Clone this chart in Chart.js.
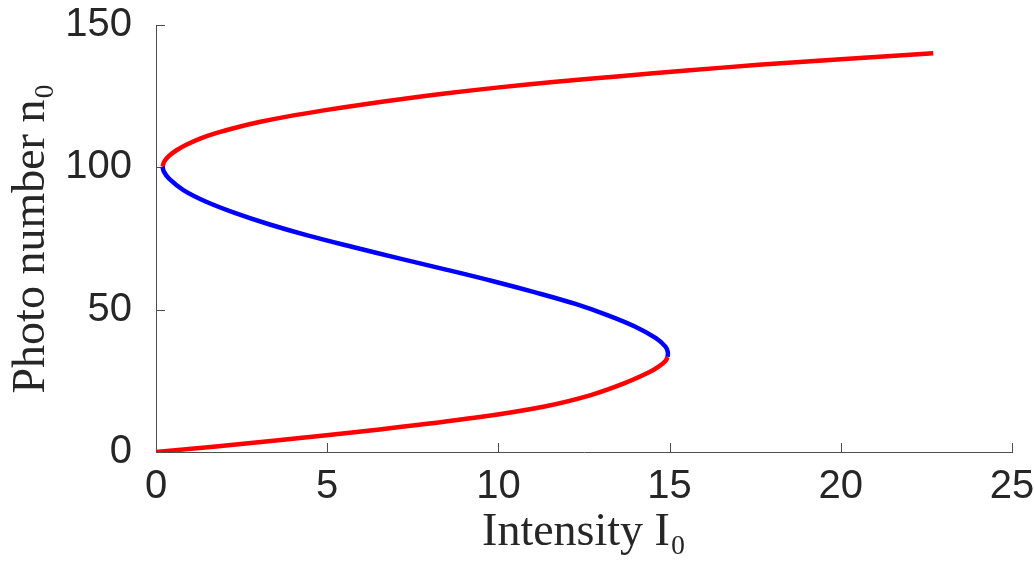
<!DOCTYPE html>
<html>
<head>
<meta charset="utf-8">
<script src="https://cdn.jsdelivr.net/npm/chart.js@4"></script>
<style>
  body { margin: 0; background: #fff; }
</style>
</head>
<body>
<canvas id="myChart" width="1034" height="561"></canvas>
<script>
// lower stable branch (red)
const lowN = [0, 4, 8, 12, 16, 20, 24, 28, 30, 32, 33.4];
const lowI = [0, 3.5, 6.6, 9.3, 11.35, 12.7, 13.65, 14.4, 14.68, 14.88, 14.94];
// middle unstable branch (blue)
const midN = [33.4, 35, 37, 40, 44, 48, 52, 56, 60, 64, 68, 72, 76, 80, 84, 88, 92, 96, 98.5, 100.2];
const midI = [14.94, 14.95, 14.88, 14.6, 14.0, 13.2, 12.25, 11.1, 9.85, 8.5, 7.1, 5.75, 4.45, 3.3, 2.3, 1.45, 0.8, 0.38, 0.23, 0.19];
// upper stable branch (red)
const highN = [100.2, 102, 104, 106, 108, 110, 112, 114, 116, 118, 120, 122, 124, 126, 128, 130, 132, 134, 136, 138, 140.1];
const highI = [0.19, 0.24, 0.38, 0.6, 0.9, 1.27, 1.75, 2.35, 3.05, 3.9, 4.9, 6.0, 7.2, 8.5, 9.95, 11.6, 13.55, 15.5, 17.6, 20.0, 22.7];

const xTicks = [0, 5, 10, 15, 20, 25];
const yTicks = [0, 50, 100, 150];

const toPoints = (xs, ys) => xs.map((x, i) => ({ x: x, y: ys[i] }));

const axisColor = "#4d4d4d";

// matlab style ticks pointing into the plot
const innerTicks = {
  id: "innerTicks",
  beforeDatasetsDraw(chart) {
    const c = chart.ctx;
    const xs = chart.scales.x;
    const ys = chart.scales.y;
    const len = 9;
    c.save();
    c.strokeStyle = axisColor;
    c.lineWidth = 1;
    xTicks.forEach(v => {
      const px = Math.round(xs.getPixelForValue(v)) + 0.5;
      c.beginPath();
      c.moveTo(px, ys.bottom);
      c.lineTo(px, ys.bottom - len);
      c.stroke();
    });
    yTicks.forEach(v => {
      const py = Math.round(ys.getPixelForValue(v)) + 0.5;
      c.beginPath();
      c.moveTo(xs.left, py);
      c.lineTo(xs.left + len, py);
      c.stroke();
    });
    c.restore();
  }
};

var ctx = document.getElementById("myChart");
new Chart(ctx, {
  type: "scatter",
  data: {
    datasets: [
      { data: toPoints(lowI, lowN), borderColor: "#ff0000" },
      { data: toPoints(midI, midN), borderColor: "#0000ff" },
      { data: toPoints(highI, highN), borderColor: "#ff0000" },
    ],
  },
  options: {
    responsive: false,
    animation: false,
    devicePixelRatio: 1,
    showLine: true,
    elements: {
      point: { radius: 0 },
      line: { borderWidth: 4.5, tension: 0.35, fill: false, borderCapStyle: "butt" },
    },
    layout: { padding: { top: 25, right: 22, left: 0, bottom: 0 } },
    plugins: { legend: { display: false }, tooltip: { enabled: false } },
    scales: {
      x: {
        type: "linear",
        min: 0,
        max: 25,
        afterFit: s => {
          s.height = 109;
          s.paddingLeft = 0;
          s.paddingRight = 0;
        },
        afterBuildTicks: s => { s.ticks = xTicks.map(v => ({ value: v })); },
        grid: { display: false },
        border: { display: true, color: axisColor, width: 1 },
        ticks: {
          color: "#262626",
          padding: 3,
          maxRotation: 0,
          font: { family: "'Liberation Sans', Arial, sans-serif", size: 40 },
        },
        title: {
          display: true,
          text: "Intensity I\u2080",
          color: "#262626",
          padding: { top: 6, bottom: 0 },
          font: { family: "'Liberation Serif', 'Times New Roman', serif", size: 46 },
        },
      },
      y: {
        type: "linear",
        min: 0,
        max: 150,
        afterFit: s => {
          s.width = 156;
          s.paddingTop = 0;
          s.paddingBottom = 0;
        },
        afterBuildTicks: s => { s.ticks = yTicks.map(v => ({ value: v })); },
        grid: { display: false },
        border: { display: true, color: axisColor, width: 1 },
        ticks: {
          color: "#262626",
          padding: 16,
          font: { family: "'Liberation Sans', Arial, sans-serif", size: 40 },
        },
        title: {
          display: true,
          text: "Photo number n\u2080",
          color: "#262626",
          padding: { top: 4, bottom: 0 },
          font: { family: "'Liberation Serif', 'Times New Roman', serif", size: 46 },
        },
      },
    },
  },
  plugins: [innerTicks],
});
</script>
</body>
</html>
